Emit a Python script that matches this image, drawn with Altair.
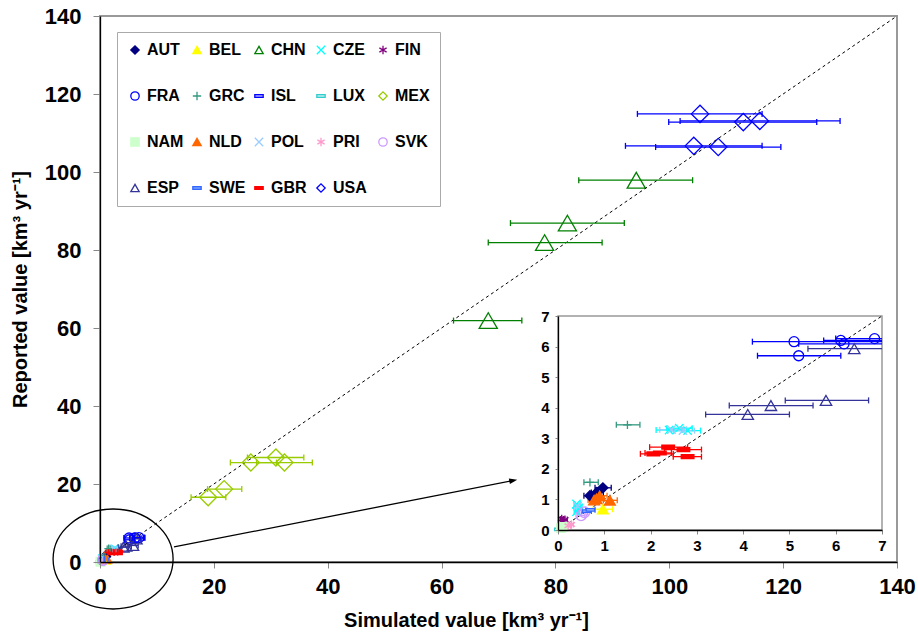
import altair as alt
import pandas as pd

# ---------------- series definitions ----------------
countries = ["AUT", "BEL", "CHN", "CZE", "FIN", "FRA", "GRC", "ISL", "LUX", "MEX",
             "NAM", "NLD", "POL", "PRI", "SVK", "ESP", "SWE", "GBR", "USA"]

# ---------------- data points (simulated, reported, x-error low/high) ----------------
pt_country = (["AUT"] * 3 + ["BEL"] + ["CHN"] * 4 + ["CZE"] * 6 + ["FIN"] * 2 + ["FRA"] * 5
              + ["GRC"] * 2 + ["ISL"] + ["LUX"] + ["MEX"] * 5 + ["NAM"] * 2 + ["NLD"] * 4
              + ["POL"] * 3 + ["PRI"] * 2 + ["SVK"] * 2 + ["ESP"] * 4 + ["SWE"] * 2
              + ["GBR"] * 5 + ["USA"] * 5)
pt_sim = [0.69, 0.84, 0.97,
          0.97,
          94.2, 82.1, 78.1, 68.2,
          2.40, 2.62, 2.80, 0.40, 0.45, 0.40,
          0.08, 0.15,
          5.10, 6.11, 6.18, 6.84, 5.20,
          1.50, 0.69,
          0.05,
          0.01,
          30.9, 32.4, 26.5, 21.8, 19.0,
          0.12, 0.06,
          0.83, 0.90, 1.12, 0.78,
          2.45, 2.70, 0.42,
          0.22, 0.29,
          0.50, 0.57,
          6.40, 5.79, 4.60, 4.10,
          0.62, 0.70,
          2.38, 2.71, 2.06, 2.80, 2.20,
          105.4, 113.0, 115.9, 104.3, 108.6]
pt_rep = [1.12, 1.23, 1.38,
          0.68,
          97.9, 86.9, 81.9, 61.9,
          3.27, 3.33, 3.25, 0.85, 0.72, 0.60,
          0.36, 0.34,
          6.16, 6.20, 6.09, 6.26, 5.70,
          3.44, 1.56,
          0.05,
          0.02,
          26.8, 25.5, 25.5, 18.7, 16.6,
          0.10, 0.06,
          1.02, 1.12, 0.97, 0.98,
          3.28, 3.25, 0.78,
          0.14, 0.18,
          0.48, 0.58,
          5.93, 4.24, 4.07, 3.78,
          0.62, 0.66,
          2.71, 2.63, 2.49, 2.40, 2.52,
          114.9, 112.8, 113.1, 106.7, 106.4]
pt_lo = [0.56, 0.72, 0.80,
         0.76,
         84.1, 72.1, 68.2, 62.1,
         2.12, 2.35, 2.50, 0.35, 0.38, 0.35,
         0.05, 0.10,
         4.20, 5.74, 5.20, 6.00, 4.31,
         1.26, 0.56,
         0.03,
         0.00,
         25.9, 27.5, 22.9, 18.9, 16.0,
         0.08, 0.03,
         0.68, 0.75, 0.98, 0.65,
         2.20, 2.45, 0.35,
         0.18, 0.24,
         0.42, 0.50,
         5.40, 4.91, 3.70, 3.19,
         0.52, 0.60,
         1.98, 2.30, 1.78, 2.49, 1.88,
         94.4, 99.9, 101.9, 92.3, 97.6]
pt_hi = [0.85, 0.98, 1.15,
         1.18,
         104.1, 92.1, 88.2, 74.1,
         2.68, 2.90, 3.08, 0.48, 0.52, 0.45,
         0.12, 0.20,
         7.60, 7.90, 7.20, 7.80, 6.11,
         1.77, 0.87,
         0.07,
         0.03,
         35.8, 37.3, 31.0, 24.9, 22.1,
         0.16, 0.09,
         1.00, 1.06, 1.28, 0.92,
         2.70, 2.95, 0.50,
         0.27, 0.33,
         0.58, 0.64,
         7.30, 6.71, 5.51, 5.00,
         0.72, 0.80,
         2.80, 3.10, 2.49, 3.10, 2.45,
         116.3, 125.9, 130.0, 116.3, 119.6]

# 1:1 lines and annotation (ellipse round the origin, arrow to the inset)
diag_main = [0, 140]
diag_inset = [0, 7]
ellipse_x = [2.3]
ellipse_y = [0.77]
arrow_x = [13.0, 72.6]
arrow_y = [3.85, 20.9]

main_ticks = [0, 20, 40, 60, 80, 100, 120, 140]
inset_ticks = [0, 1, 2, 3, 4, 5, 6, 7]

# ---------------- styles ----------------
colors = ["#000080", "#FFFF00", "#008000", "#00FFFF", "#800080", "#0000FF", "#339980",
          "#0000FF", "#33CCCC", "#99CC00", "#CCFFCC", "#FF6600", "#99CCFF", "#FF99CC",
          "#CC99FF", "#333399", "#3366FF", "#FF0000", "#0000FF"]
fills = ["#000080", "#FFFF00", "transparent", "transparent", "transparent", "transparent",
         "transparent", "#FFFFFF", "#FFFFFF", "transparent", "#CCFFCC", "#FF6600",
         "transparent", "transparent", "transparent", "transparent", "#99BBFF",
         "#FF0000", "transparent"]
XSHAPE = "M-1,-1L1,1M-1,1L1,-1"
STAR = "M0,-1L0,1M-0.87,-0.5L0.87,0.5M-0.87,0.5L0.87,-0.5"
PLUS = "M-1,0L1,0M0,-1L0,1"
DASH = "M-1,-0.3L1,-0.3L1,0.3L-1,0.3Z"
shapes = ["diamond", "triangle-up", "triangle-up", XSHAPE, STAR, "circle", PLUS, DASH, DASH,
          "diamond", "square", "triangle-up", XSHAPE, STAR, "circle", "triangle-up", DASH,
          DASH, "diamond"]
sizes = [100, 120, 330, 70, 70, 100, 70, 50, 60, 290, 70, 120, 70, 70, 110, 130, 70, 160, 300]

FONT = "Liberation Sans"

df = pd.DataFrame({"country": pt_country, "sim": pt_sim, "rep": pt_rep,
                   "lo": pt_lo, "hi": pt_hi})
style_df = pd.DataFrame({"country": countries, "msize": sizes})

legend = alt.Legend(orient="none", legendX=17, legendY=16, columns=5, direction="horizontal",
                    title=None, labelFontSize=16, labelFontWeight="bold", labelFont=FONT,
                    labelColor="black", symbolSize=70, symbolStrokeWidth=1.3,
                    strokeColor="#AAAAAA", fillColor="white", padding=10,
                    rowPadding=30, columnPadding=5, gridAlign="all", labelOffset=4)

stroke_enc = alt.Stroke("country:N", scale=alt.Scale(domain=countries, range=colors),
                        legend=legend)
fill_enc = alt.Fill("country:N", scale=alt.Scale(domain=countries, range=fills),
                    legend=legend)
shape_enc = alt.Shape("country:N", scale=alt.Scale(domain=countries, range=shapes),
                      legend=legend)
size_enc = alt.Size("msize:Q", scale=None, legend=None)

# ---------------- main panel ----------------
XT = "Simulated value [km³ yr⁻¹]"
YT = "Reported value [km³ yr⁻¹]"
main_xscale = alt.Scale(domain=[0, 140], nice=False, zero=False)
main_yscale = alt.Scale(domain=[0, 140], nice=False, zero=False)
main_xaxis = alt.Axis(values=main_ticks, grid=False, labelFontSize=22, labelFont=FONT,
                      labelFontWeight="bold", labelColor="black", labelFlush=False,
                      labelPadding=8, tickSize=6, tickColor="#888888", domainColor="black",
                      domainWidth=1.3, zindex=1, titleFont=FONT, titleFontSize=20,
                      titleFontWeight="bold", titleColor="black", titleX=366, titleY=58,
                      titleBaseline="middle", titleAlign="center")
main_yaxis = alt.Axis(values=main_ticks, grid=False, labelFontSize=22, labelFont=FONT,
                      labelFontWeight="bold", labelColor="black", labelFlush=False,
                      labelPadding=12, tickSize=7, tickColor="#888888", domainColor="black",
                      domainWidth=1.3, zindex=1, titleFont=FONT, titleFontSize=20,
                      titleFontWeight="bold", titleColor="black", titleX=-80, titleY=273,
                      titleBaseline="middle", titleAlign="center", titleAngle=-90)


def mx(field):
    return alt.X(field, type="quantitative", scale=main_xscale, axis=main_xaxis, title=XT)


def my(field):
    return alt.Y(field, type="quantitative", scale=main_yscale, axis=main_yaxis, title=YT)


base = alt.Chart(df).transform_lookup(
    lookup="country", from_=alt.LookupData(style_df, "country", ["msize"]))
m_rules = base.mark_rule(strokeWidth=1.3).encode(
    x=mx("lo"), x2="hi", y=my("rep"), stroke=stroke_enc)
m_cap_lo = base.mark_point(shape="M0,-1L0,1", size=36, strokeWidth=1.3, opacity=1,
                           filled=False).encode(x=mx("lo"), y=my("rep"), stroke=stroke_enc)
m_cap_hi = base.mark_point(shape="M0,-1L0,1", size=36, strokeWidth=1.3, opacity=1,
                           filled=False).encode(x=mx("hi"), y=my("rep"), stroke=stroke_enc)
m_points = base.mark_point(strokeWidth=1.3, opacity=1, filled=False).encode(
    x=mx("sim"), y=my("rep"), stroke=stroke_enc, fill=fill_enc, shape=shape_enc, size=size_enc)

m_diag = alt.Chart(pd.DataFrame({"a": diag_main, "b": diag_main})).mark_line(
    color="black", strokeWidth=1, strokeDash=[3, 3]).encode(x=mx("a"), y=my("b"))

ELLIPSE = "M-1.2,0A1.2,1,0,1,0,1.2,0A1.2,1,0,1,0,-1.2,0Z"
m_ellipse = alt.Chart(pd.DataFrame({"a": ellipse_x, "b": ellipse_y})).mark_point(
    shape=ELLIPSE, size=10000, stroke="black", strokeWidth=1.3, filled=False,
    opacity=1).encode(x=mx("a"), y=my("b"))

arrow_df = pd.DataFrame({"a": arrow_x, "b": arrow_y, "o": [0, 1]})
m_arrow = alt.Chart(arrow_df).mark_line(color="black", strokeWidth=1.3).encode(
    x=mx("a"), y=my("b"), order="o:O")
m_arrowhead = alt.Chart(arrow_df).transform_filter("datum.o == 1").mark_point(
    shape="M1,0L-1,-0.7L-1,0.7Z", size=64, angle=349, filled=True, color="black",
    opacity=1).encode(x=mx("a"), y=my("b"))

main = alt.layer(m_points, m_diag, m_ellipse, m_arrow, m_arrowhead, m_rules, m_cap_lo,
                 m_cap_hi)

# ---------------- inset panel ----------------
inset_xscale = alt.Scale(domain=[0, 7], range=[458, 782], nice=False, zero=False, clamp=True)
inset_yscale = alt.Scale(domain=[0, 7], range=[514, 300], nice=False, zero=False, clamp=True)
inset_xaxis = alt.Axis(orient="bottom", offset=-32, values=inset_ticks, grid=False,
                       labelFontSize=15, labelFont=FONT, labelFontWeight="bold",
                       labelColor="black", labelFlush=False, labelPadding=4, tickSize=4,
                       tickColor="#888888", domainColor="black", domainWidth=1.3, zindex=1,
                       title=None)
inset_yaxis = alt.Axis(orient="left", offset=-458, values=inset_ticks, grid=False,
                       labelFontSize=15, labelFont=FONT, labelFontWeight="bold",
                       labelColor="black", labelFlush=False, labelPadding=6, tickSize=3,
                       tickColor="#888888", domainColor="black", domainWidth=1.3, zindex=1,
                       title=None)


def ix(field):
    return alt.X(field, type="quantitative", scale=inset_xscale, axis=inset_xaxis)


def iy(field):
    return alt.Y(field, type="quantitative", scale=inset_yscale, axis=inset_yaxis)


ibase = base.transform_filter("datum.sim <= 7 && datum.rep <= 7")
i_frame = alt.Chart(pd.DataFrame({"a": [0], "b": [7]})).mark_rect(
    fill="white", stroke="#999999", strokeWidth=1.5).encode(
    x=ix("a"), x2="b", y=iy("a"), y2="b")
i_diag = alt.Chart(pd.DataFrame({"a": diag_inset, "b": diag_inset})).mark_line(
    color="black", strokeWidth=1, strokeDash=[3, 3]).encode(x=ix("a"), y=iy("b"))
i_rules = ibase.mark_rule(strokeWidth=1.3).encode(
    x=ix("lo"), x2="hi", y=iy("rep"), stroke=stroke_enc)
i_cap_lo = ibase.mark_point(shape="M0,-1L0,1", size=36, strokeWidth=1.3, opacity=1,
                            filled=False).encode(x=ix("lo"), y=iy("rep"), stroke=stroke_enc)
i_cap_hi = ibase.transform_filter("datum.hi <= 7").mark_point(
    shape="M0,-1L0,1", size=36, strokeWidth=1.3, opacity=1, filled=False).encode(
    x=ix("hi"), y=iy("rep"), stroke=stroke_enc)
i_points = ibase.mark_point(strokeWidth=1.3, opacity=1, filled=False).encode(
    x=ix("sim"), y=iy("rep"), stroke=stroke_enc, fill=fill_enc, shape=shape_enc,
    size=size_enc)

inset = alt.layer(i_frame, i_diag, i_rules, i_cap_lo, i_cap_hi, i_points)

chart = alt.layer(main, inset).resolve_scale(x="independent", y="independent").resolve_axis(
    x="independent", y="independent").properties(
    width=797, height=546,
    padding={"left": 100, "top": 16, "right": 21, "bottom": 70},
    autosize=alt.AutoSizeParams(type="none"),
    background="white",
).configure_view(stroke="#999999", strokeWidth=2)

chart.save("out.html", embed_options={"renderer": "svg", "actions": False})
